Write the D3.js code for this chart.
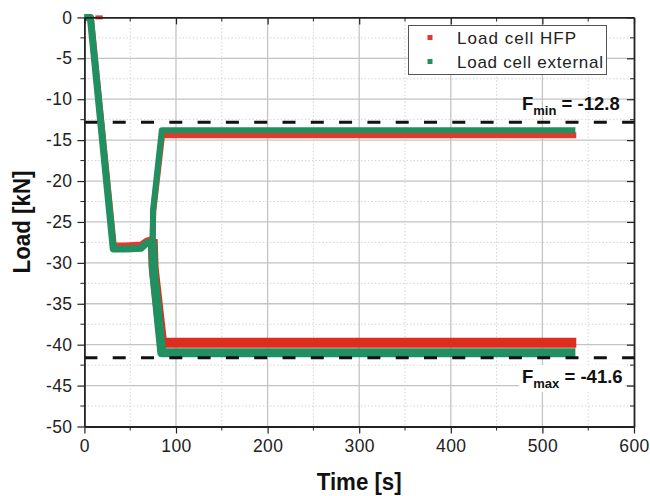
<!DOCTYPE html>
<html>
<head>
<meta charset="utf-8">
<script src="https://cdn.jsdelivr.net/npm/d3@7"></script>
<style>
  body { margin: 0; background: #fff; }
  svg { font-family: "Liberation Sans", Arial, sans-serif; }
</style>
</head>
<body>
<svg id="chart" width="650" height="496"></svg>
<script>
  // ---- data (time in s, load in kN) ----
  // HFP load cell (red)
  const hfpRampT   = [0, 6.8, 31.8, 45, 62, 68, 74.5];
  const hfpRampL   = [0, 0, -27.9, -27.9, -27.8, -27.3, -27.1];
  const hfpUpperT  = [74.5, 75.2, 84.8, 200, 400, 537];
  const hfpUpperL  = [-27.1, -23.7, -14.4, -14.4, -14.4, -14.4];
  const hfpLowerT  = [74.5, 75.6, 84.8, 200, 400, 537];
  const hfpLowerL  = [-27.1, -30.6, -39.75, -39.75, -39.75, -39.75];
  const hfpZeroT   = [12, 20];
  const hfpZeroL   = [0, 0];

  // external load cell (green)
  const extRampT   = [0, 6.5, 31.5, 45, 62, 68, 74.5];
  const extRampL   = [0, 0, -28.3, -28.3, -28.2, -27.6, -27.3];
  const extUpperT  = [74.5, 75, 84.5, 200, 400, 536];
  const extUpperL  = [-27.3, -23.5, -13.8, -13.8, -13.8, -13.8];
  const extLowerT  = [74.5, 75.5, 84.5, 200, 400, 536];
  const extLowerL  = [-27.3, -31, -41, -41, -41, -41];

  // reference levels
  const fMin = -12.8;
  const fMax = -41.6;

  const xTicks = [0, 100, 200, 300, 400, 500, 600];
  const yTicks = [0, -5, -10, -15, -20, -25, -30, -35, -40, -45, -50];
  const xMinor = [50, 150, 250, 350, 450, 550];
  const yMinor = [-2.5, -7.5, -12.5, -17.5, -22.5, -27.5, -32.5, -37.5, -42.5, -47.5];

  const legendNames = ["Load cell HFP", "Load cell external"];

(function(){
  "use strict";

  const RED = "#e2392d";
  const GREEN = "#219060";

  // ---- layout ----
  const svg = d3.select("#chart");
  const pLeft = 84.4, pRight = 634, pTop = 17.4, pBottom = 426.5;

  const x = d3.scaleLinear().domain([0, 600]).range([pLeft, pRight]);
  const y = d3.scaleLinear().domain([-50, 0]).range([pBottom, pTop]);

  // zip helper
  const pts = (ts, ls) => ts.map((t, i) => [t, ls[i]]);

  // grid
  const grid = svg.append("g");
  grid.selectAll(".gxm").data(xMinor).enter().append("line")
    .attr("x1", d => x(d)).attr("x2", d => x(d))
    .attr("y1", pTop).attr("y2", pBottom)
    .attr("stroke", "#d4d4d4").attr("stroke-width", 1).attr("stroke-dasharray", "1.5,2");
  grid.selectAll(".gym").data(yMinor).enter().append("line")
    .attr("x1", pLeft).attr("x2", pRight)
    .attr("y1", d => y(d)).attr("y2", d => y(d))
    .attr("stroke", "#d4d4d4").attr("stroke-width", 1).attr("stroke-dasharray", "1.5,2");
  grid.selectAll(".gx").data(xTicks.slice(1, -1)).enter().append("line")
    .attr("x1", d => x(d)).attr("x2", d => x(d))
    .attr("y1", pTop).attr("y2", pBottom)
    .attr("stroke", "#c4c4c4").attr("stroke-width", 1.3);
  grid.selectAll(".gy").data(yTicks.slice(1, -1)).enter().append("line")
    .attr("x1", pLeft).attr("x2", pRight)
    .attr("y1", d => y(d)).attr("y2", d => y(d))
    .attr("stroke", "#c4c4c4").attr("stroke-width", 1.3);

  // data lines
  const line = d3.line().x(d => x(d[0])).y(d => y(d[1]));
  const series = [
    { p: pts(hfpRampT, hfpRampL), c: RED, w: 6.5 },
    { p: pts(hfpZeroT, hfpZeroL), c: RED, w: 4 },
    { p: pts(hfpUpperT, hfpUpperL), c: RED, w: 6 },
    { p: pts(hfpLowerT, hfpLowerL), c: "#dc2d20", w: 10 },
    { p: pts(extRampT, extRampL), c: GREEN, w: 7 },
    { p: pts(extUpperT, extUpperL), c: GREEN, w: 6 },
    { p: pts(extLowerT, extLowerL), c: GREEN, w: 9 }
  ];
  svg.append("g").selectAll("path").data(series).enter().append("path")
    .attr("d", d => line(d.p))
    .attr("fill", "none")
    .attr("stroke", d => d.c)
    .attr("stroke-width", d => d.w)
    .attr("stroke-linejoin", "round");

  // dashed reference lines
  svg.append("g").selectAll("line").data([fMin, fMax]).enter().append("line")
    .attr("x1", pLeft).attr("x2", pRight)
    .attr("y1", d => y(d)).attr("y2", d => y(d))
    .attr("stroke", "#111").attr("stroke-width", 3)
    .attr("stroke-dasharray", "13,15.3");

  // axes
  const fmt = d => String(d);
  const axB = svg.append("g").attr("transform", `translate(0,${pBottom})`)
    .call(d3.axisBottom(x).tickValues(xTicks).tickSize(7).tickSizeOuter(0).tickPadding(6).tickFormat(fmt));
  const axL = svg.append("g").attr("transform", `translate(${pLeft},0)`)
    .call(d3.axisLeft(y).tickValues(yTicks).tickSize(7).tickSizeOuter(0).tickPadding(5).tickFormat(fmt));
  const axT = svg.append("g").attr("transform", `translate(0,${pTop})`)
    .call(d3.axisBottom(x).tickValues(xTicks).tickSize(7).tickSizeOuter(0).tickFormat(""));
  const axR = svg.append("g").attr("transform", `translate(${pRight},0)`)
    .call(d3.axisRight(y).tickValues(yTicks).tickSize(-7).tickSizeOuter(0).tickFormat(""));

  // minor ticks
  svg.append("g").selectAll("line").data(xMinor).enter().append("line")
    .attr("x1", d => x(d)).attr("x2", d => x(d)).attr("y1", pBottom).attr("y2", pBottom + 4)
    .attr("stroke", "#222");
  svg.append("g").selectAll("line").data(xMinor).enter().append("line")
    .attr("x1", d => x(d)).attr("x2", d => x(d)).attr("y1", pTop).attr("y2", pTop + 4)
    .attr("stroke", "#222");
  svg.append("g").selectAll("line").data(yMinor).enter().append("line")
    .attr("x1", pLeft - 4).attr("x2", pLeft).attr("y1", d => y(d)).attr("y2", d => y(d))
    .attr("stroke", "#222");
  svg.append("g").selectAll("line").data(yMinor).enter().append("line")
    .attr("x1", pRight - 4).attr("x2", pRight).attr("y1", d => y(d)).attr("y2", d => y(d))
    .attr("stroke", "#222");

  [axB, axL, axT, axR].forEach(a => {
    a.select(".domain").attr("stroke", "#222").attr("stroke-width", 1.8);
    a.selectAll(".tick line").attr("stroke", "#222").attr("stroke-width", 1.2);
    a.selectAll("text").attr("font-size", 17.5).attr("fill", "#222")
      .attr("letter-spacing", 0.4)
      .attr("font-family", '"Liberation Sans", Arial, sans-serif');
  });

  // axis titles
  svg.append("text").attr("x", (pLeft + pRight) / 2).attr("y", 490)
    .attr("text-anchor", "middle").attr("font-size", 23).attr("font-weight", "bold")
    .attr("textLength", 85).attr("lengthAdjust", "spacingAndGlyphs")
    .attr("fill", "#111").text("Time [s]");
  svg.append("text").attr("transform", `translate(30,${(pTop + pBottom) / 2}) rotate(-90)`)
    .attr("text-anchor", "middle").attr("font-size", 23).attr("font-weight", "bold")
    .attr("textLength", 103).attr("lengthAdjust", "spacingAndGlyphs")
    .attr("fill", "#111").text("Load [kN]");

  // F labels (the lower one sits on a white box)
  function fLabel(sub, val, yBase, boxed) {
    const g = svg.append("g");
    const bg = g.append("rect").attr("fill", boxed ? "#fff" : "none");
    const t = g.append("text").attr("x", 522).attr("y", yBase)
      .attr("font-size", 18.5).attr("font-weight", "bold").attr("fill", "#111");
    t.append("tspan").text("F");
    t.append("tspan").attr("font-size", 13).attr("dy", 5).text(sub);
    t.append("tspan").attr("dy", -5).text(" = " + val);
    const b = t.node().getBBox();
    bg.attr("x", b.x - 3).attr("y", b.y - 1).attr("width", b.width + 6).attr("height", b.height + 2);
  }
  fLabel("min", fMin.toFixed(1), 110, false);
  fLabel("max", fMax.toFixed(1), 383, true);

  // legend
  const lg = svg.append("g");
  lg.append("rect").attr("x", 408.5).attr("y", 25.5).attr("width", 198).attr("height", 49)
    .attr("fill", "#fff").attr("stroke", "#555").attr("stroke-width", 1);
  lg.selectAll(".lm").data(legendNames).enter().append("rect")
    .attr("x", 427.5).attr("y", (d, i) => 35 + i * 24)
    .attr("width", 5).attr("height", 5)
    .attr("fill", (d, i) => i === 0 ? RED : GREEN);
  lg.selectAll(".lt").data(legendNames).enter().append("text")
    .attr("x", 457).attr("y", (d, i) => 44 + i * 24)
    .attr("font-size", 17).attr("fill", "#222")
    .attr("textLength", (d, i) => i === 0 ? 119 : 146)
    .attr("lengthAdjust", "spacing")
    .text(d => d);
})();
</script>
</body>
</html>
